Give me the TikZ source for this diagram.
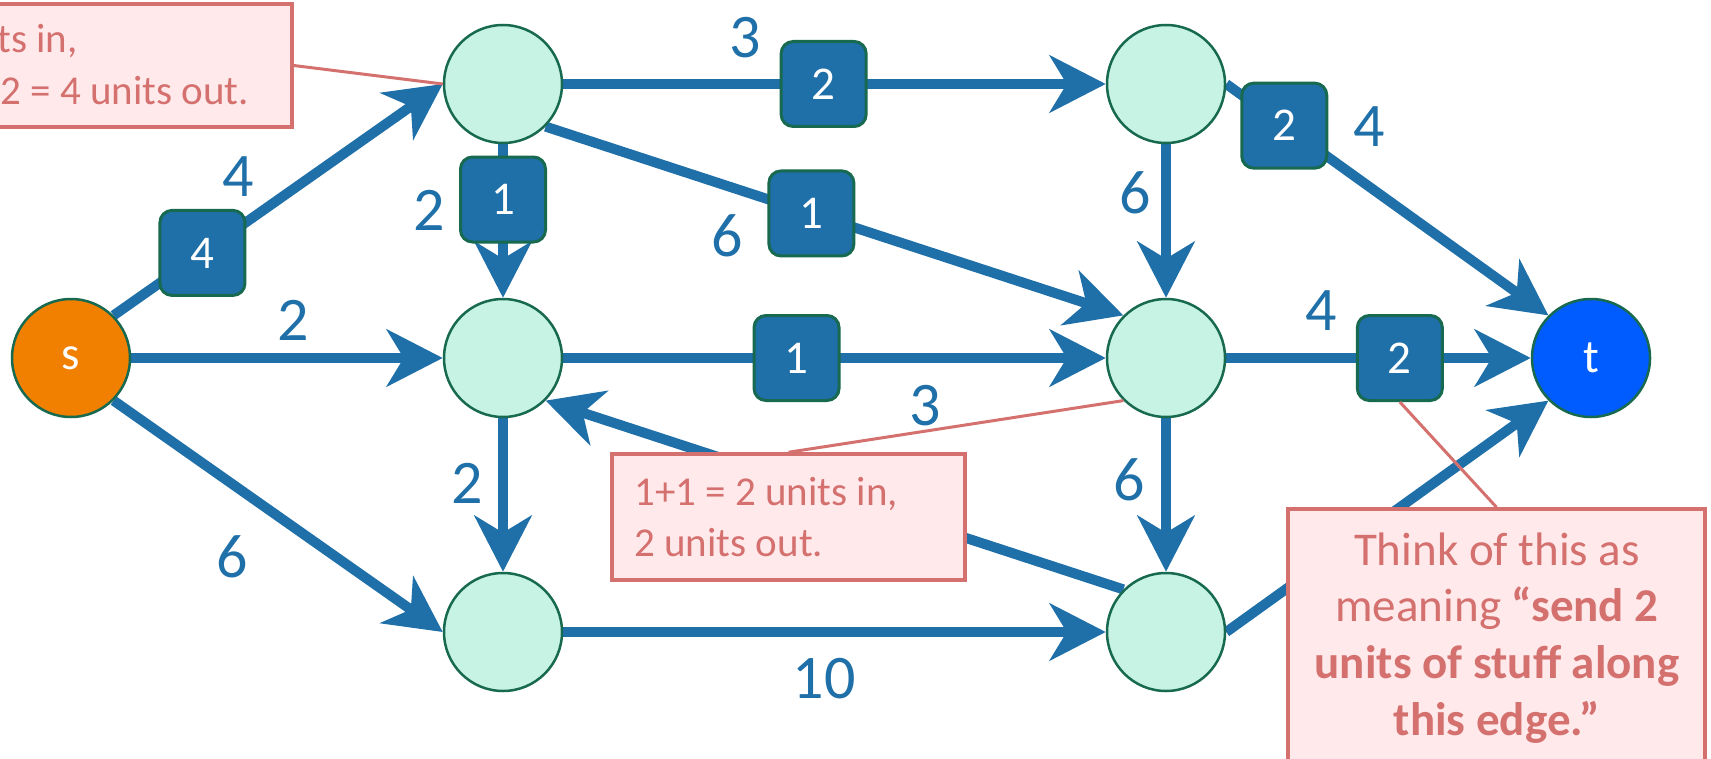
\documentclass[tikz,border=0pt]{standalone}
\usepackage{fontspec}
\setmainfont{Carlito}
\usetikzlibrary{arrows.meta}
\definecolor{edgeblue}{HTML}{1F6FA9}
\definecolor{nodefill}{HTML}{C7F3E5}
\definecolor{nodeline}{HTML}{17694F}
\definecolor{sorange}{HTML}{F28000}
\definecolor{tblue}{HTML}{005CFF}
\definecolor{notefill}{HTML}{FFE9EB}
\definecolor{noteline}{HTML}{D4716F}
\pgfdeclarelayer{bg}
\pgfsetlayers{bg,main}
\begin{document}
\begin{tikzpicture}[x=0.5pt,y=-0.5pt,
  vert/.style={circle, draw=nodeline, line width=1.25pt, fill=nodefill, minimum size=59pt, inner sep=0pt, text=white, font=\fontsize{23.5}{28}\selectfont},
  flowedge/.style={draw=edgeblue, line width=5pt, -{Stealth[length=28pt,width=28.5pt,inset=8.5pt]}},
  flowbox/.style={rectangle, rounded corners=6pt, draw=nodeline, line width=1.5pt, fill=edgeblue, text=white, minimum size=42.5pt, inner sep=0pt, font=\fontsize{23.5}{28}\selectfont},
  caplabel/.style={text=edgeblue, inner sep=0pt, font=\fontsize{31}{37}\selectfont},
  note/.style={rectangle, draw=noteline, line width=1.75pt, fill=notefill, inner sep=0pt},
  notetext/.style={text=noteline, inner sep=0pt, anchor=base west, font=\fontsize{20.5}{25}\selectfont},
  bignotetext/.style={text=noteline, inner sep=0pt, anchor=base, font=\fontsize{23.5}{29}\selectfont},
  pointer/.style={draw=noteline, line width=1.5pt}
]
\useasboundingbox (0,0) rectangle (1711,759);
\clip (0,0) rectangle (1711,759);

% vertices
\node[vert, fill=sorange] (s) at (71,358) {s};
\node[vert] (TL) at (503,84) {};
\node[vert] (ML) at (503,358) {};
\node[vert] (BL) at (503,632) {};
\node[vert] (TR) at (1166,84) {};
\node[vert] (MR) at (1166,358) {};
\node[vert] (BR) at (1166,632) {};
\node[vert, fill=tblue] (t) at (1591,358) {t};

% edges
\begin{pgfonlayer}{bg}
\draw[flowedge] (s.north east) -- node[flowbox,pos=0.27] (fa) {4} (TL.west);
\draw[flowedge] (s.east) -- (ML.west);
\draw[flowedge] (s.south east) -- (BL.west);
\draw[flowedge] (TL.east) -- node[flowbox,pos=0.48] (fb) {2} (TR.west);
\draw[flowedge] (TL.south) -- node[flowbox,pos=0.36] (fc) {1} (ML.north);
\draw[flowedge] (TL.south east) -- node[flowbox,pos=0.46] (fd) {1} (MR.north west);
\draw[flowedge] (ML.east) -- node[flowbox,pos=0.43] (fe) {1} (MR.west);
\draw[flowedge] (BR.north west) -- (ML.south east);
\draw[flowedge] (ML.south) -- (BL.north);
\draw[flowedge] (BL.east) -- (BR.west);
\draw[flowedge] (TR.south) -- (MR.north);
\draw[flowedge] (TR.east) -- node[flowbox,pos=0.18] (ff) {2} (t.north west);
\draw[flowedge] (MR.east) -- node[flowbox,pos=0.57] (fg) {2} (t.west);
\draw[flowedge] (MR.south) -- (BR.north);
\draw[flowedge] (BR.east) -- (t.south west);
\end{pgfonlayer}

% capacities
\node[caplabel] (c1) at (238,177) {4};
\node[caplabel] (c2) at (293,320) {2};
\node[caplabel] (c3) at (232,557) {6};
\node[caplabel] (c4) at (745,38) {3};
\node[caplabel] (c5) at (429,210) {2};
\node[caplabel] (c6) at (727,236) {6};
\node[caplabel] (c7) at (925,406) {3};
\node[caplabel] (c8) at (467,483) {2};
\node[caplabel] (c9) at (824,679) {10};
\node[caplabel] (c10) at (1135,193) {6};
\node[caplabel] (c11) at (1369,127) {4};
\node[caplabel] (c12) at (1321,311) {4};
\node[caplabel] (c13) at (1129,480) {6};

% top-left note
\node[note, minimum width=161pt, minimum height=61.5pt] (nTL) at (131,65.5) {};
\node[notetext] (nTLa) at (-3,53) {ts in,};
\node[notetext] (nTLb) at (0,105) {2 = 4 units out.};
\draw[pointer] (nTL.east) -- (TL.west);

% middle note
\node[note, minimum width=176.5pt, minimum height=63pt] (nMid) at (788.5,517) {};
\node[notetext] (nMida) at (634,505) {1+1 = 2 units in,};
\node[notetext] (nMidb) at (634,556) {2 units out.};
\draw[pointer] (MR.south west) -- (nMid.north);

% big note
\node[note, minimum width=208.5pt, minimum height=145.5pt] (nBig) at (1496.5,654.5) {};
\node[bignotetext] (nBiga) at (1497,565) {Think of this as};
\node[bignotetext] (nBigb) at (1497,621) {meaning \textbf{“send 2}};
\node[bignotetext] (nBigc) at (1497,678) {\textbf{units of stuff along}};
\node[bignotetext] (nBigd) at (1497,735) {\textbf{this edge.”}};
\draw[pointer] (fg.south) -- (nBig.north);
\end{tikzpicture}
\end{document}
